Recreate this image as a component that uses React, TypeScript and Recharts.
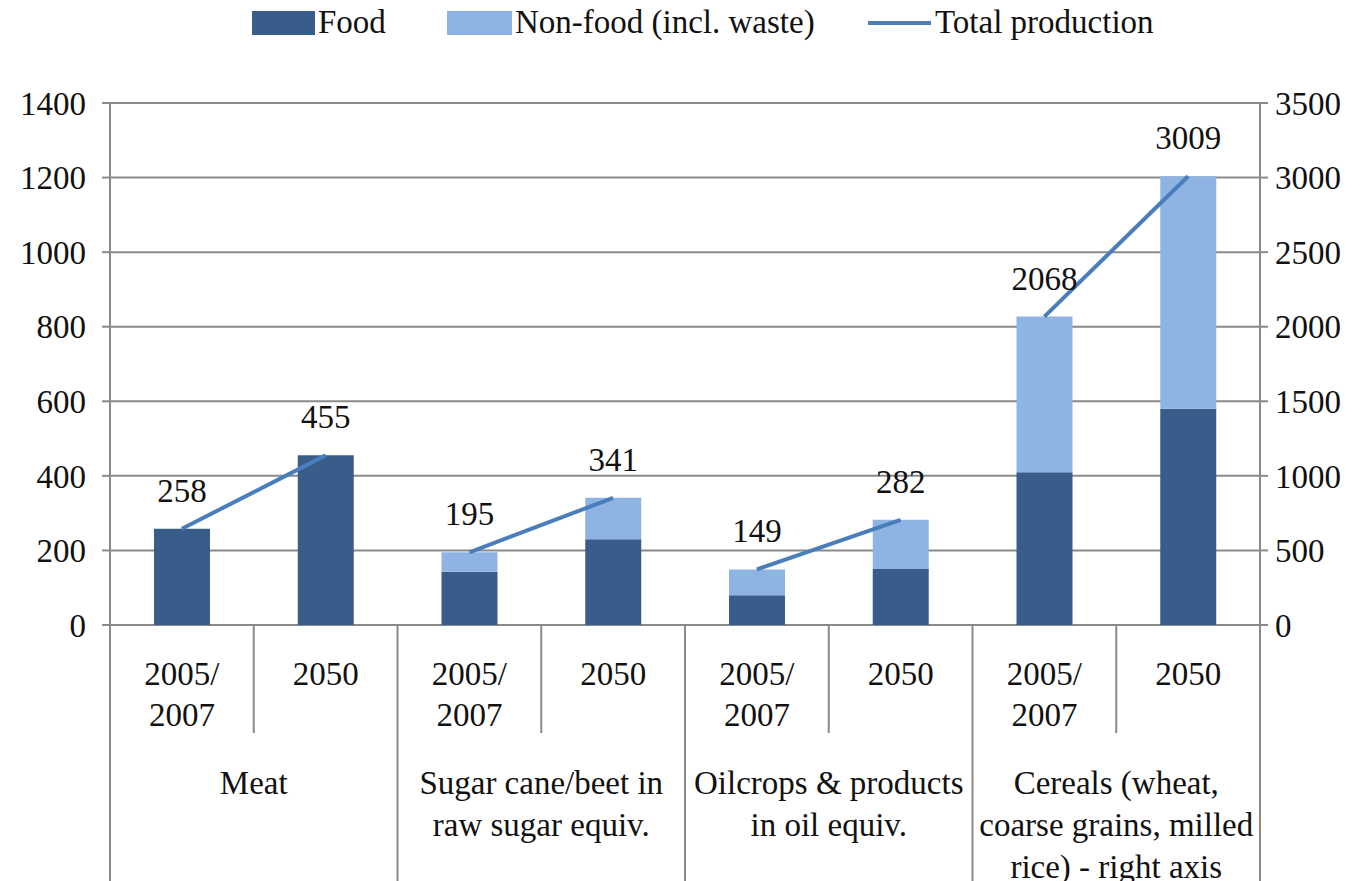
import {
  Bar,
  CartesianGrid,
  ComposedChart,
  LabelList,
  Line,
  XAxis,
  YAxis,
} from "recharts";

const periods = ["2005/2007", "2050", "2005/2007", "2050", "2005/2007", "2050", "2005/2007", "2050"];
const groupNames = [
  ["Meat"],
  ["Sugar cane/beet in", "raw sugar equiv."],
  ["Oilcrops & products", "in oil equiv."],
  ["Cereals (wheat,", "coarse grains, milled", "rice) - right axis"],
];
// raw values; the cereals group is read on the right axis
const food = [258, 455, 143, 230, 80, 150, 1025, 1450];
const nonFood = [0, 0, 52, 111, 69, 132, 1043, 1559];
const totals = [258, 455, 195, 341, 149, 282, 2068, 3009];
const onRightAxis = [false, false, false, false, false, false, true, true];

const leftTicks = [0, 200, 400, 600, 800, 1000, 1200, 1400];
const rightTicks = [0, 500, 1000, 1500, 2000, 2500, 3000, 3500];

const RATIO = 1400 / 3500;
const FONT = "'Liberation Serif', 'Times New Roman', serif";
const FOOD = "#385D8A";
const NONFOOD = "#8EB4E3";
const LINE = "#4A7EBB";
const GRID = "#8a8a8a";
const BAND = (1260 - 110) / 8;

// bars for the right-axis group are stacked on the left scale, so rescale them
const rows = periods.map((p, i) => {
  const k = onRightAxis[i] ? RATIO : 1;
  const g = Math.floor(i / 2);
  const row: Record<string, any> = {
    period: p,
    food: food[i] * k,
    nonFood: nonFood[i] * k,
  };
  for (let j = 0; j < groupNames.length; j++) {
    row[`t${j}`] = j === g ? totals[i] : null;
  }
  return row;
});

function PeriodTick({ x, y, payload }: any) {
  const i = payload.index;
  const lines = String(payload.value) === "2005/2007" ? ["2005/", "2007"] : ["2050"];
  const endOfGroup = i % 2 === 1;
  const g = Math.floor(i / 2);
  return (
    <g>
      {lines.map((t, k) => (
        <text
          key={k}
          x={x}
          y={y + 49 + k * 41}
          textAnchor="middle"
          dominantBaseline="central"
          fontFamily={FONT}
          fontSize={33}
          fill="#111"
        >
          {t}
        </text>
      ))}
      {i === 0 && (
        <line x1={x - BAND / 2} x2={x - BAND / 2} y1={y} y2={y + 260} stroke={GRID} strokeWidth={2} />
      )}
      <line
        x1={x + BAND / 2}
        x2={x + BAND / 2}
        y1={y}
        y2={endOfGroup ? y + 260 : y + 108}
        stroke={GRID}
        strokeWidth={2}
      />
      {endOfGroup &&
        groupNames[g].map((t, k) => (
          <text
            key={`g${k}`}
            x={x - BAND / 2}
            y={y + 158 + k * 42}
            textAnchor="middle"
            dominantBaseline="central"
            fontFamily={FONT}
            fontSize={33}
            fill="#111"
          >
            {t}
          </text>
        ))}
    </g>
  );
}

function TotalLabel({ x, y, index }: any) {
  if (x == null || y == null) return null;
  return (
    <text
      x={x}
      y={y - 38}
      textAnchor="middle"
      dominantBaseline="central"
      fontFamily={FONT}
      fontSize={33}
      fill="#111"
    >
      {totals[index]}
    </text>
  );
}

function ChartLegend() {
  const text = { fontFamily: FONT, fontSize: 33, color: "#111", position: "absolute" as const, top: 4, lineHeight: "36px", whiteSpace: "nowrap" as const };
  return (
    <div style={{ position: "absolute", left: 0, top: 0, width: 1360, height: 50 }}>
      <div style={{ position: "absolute", left: 252, top: 11, width: 63, height: 24, background: FOOD }} />
      <span style={{ ...text, left: 318 }}>Food</span>
      <div style={{ position: "absolute", left: 447, top: 11, width: 65, height: 24, background: NONFOOD }} />
      <span style={{ ...text, left: 515 }}>Non-food (incl. waste)</span>
      <div style={{ position: "absolute", left: 868, top: 21, width: 63, height: 4, background: LINE }} />
      <span style={{ ...text, left: 935 }}>Total production</span>
    </div>
  );
}

export default function App() {
  return (
    <div style={{ position: "absolute", left: 0, top: 0, width: 1360, height: 881, background: "#fff" }}>
      <ComposedChart
        width={1360}
        height={881}
        data={rows}
        margin={{ top: 103, right: 0, bottom: 0, left: 0 }}
      >
        <CartesianGrid yAxisId="left" vertical={false} stroke={GRID} strokeWidth={2} />
        <XAxis
          dataKey="period"
          height={256}
          interval={0}
          tickLine={false}
          axisLine={false}
          tickSize={0}
          tickMargin={0}
          tick={<PeriodTick />}
        />
        <YAxis
          yAxisId="left"
          width={110}
          domain={[0, 1400]}
          ticks={leftTicks}
          interval={0}
          tickSize={8}
          tickMargin={16}
          axisLine={{ stroke: GRID, strokeWidth: 2 }}
          tickLine={{ stroke: GRID, strokeWidth: 2 }}
          tick={{ fontFamily: FONT, fontSize: 33, fill: "#111" }}
        />
        <YAxis
          yAxisId="right"
          orientation="right"
          width={100}
          domain={[0, 3500]}
          ticks={rightTicks}
          interval={0}
          tickSize={8}
          tickMargin={7}
          axisLine={{ stroke: GRID, strokeWidth: 2 }}
          tickLine={{ stroke: GRID, strokeWidth: 2 }}
          tick={{ fontFamily: FONT, fontSize: 33, fill: "#111" }}
        />
        <Bar yAxisId="left" dataKey="food" stackId="a" fill={FOOD} barSize={56} isAnimationActive={false} />
        <Bar yAxisId="left" dataKey="nonFood" stackId="a" fill={NONFOOD} barSize={56} isAnimationActive={false} />
        {groupNames.map((_, j) => (
          <Line
            key={j}
            yAxisId={j === 3 ? "right" : "left"}
            dataKey={`t${j}`}
            stroke={LINE}
            strokeWidth={4}
            dot={false}
            activeDot={false}
            connectNulls={false}
            isAnimationActive={false}
          >
            <LabelList dataKey={`t${j}`} content={<TotalLabel />} />
          </Line>
        ))}
      </ComposedChart>
      <ChartLegend />
    </div>
  );
}
